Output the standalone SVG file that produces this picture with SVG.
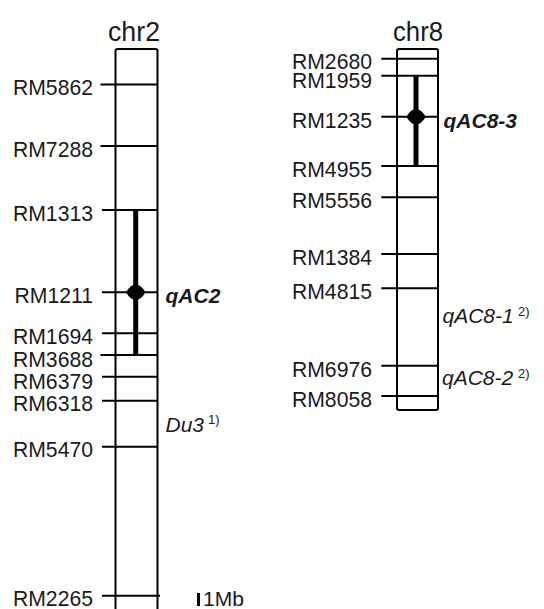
<svg xmlns="http://www.w3.org/2000/svg" width="544" height="609" viewBox="0 0 544 609">
<style>
text{font-family:"Liberation Sans",Arial,sans-serif;fill:#1a1a1a}
.t{font-size:27px;text-anchor:middle}
.m{font-size:21.2px;text-anchor:end}
.q{font-size:21px;font-style:italic}
.qb{font-size:21px;font-style:italic;font-weight:bold}
.s{font-size:13px}
.chr{fill:none;stroke:#000;stroke-width:2}
.tk{stroke:#000;stroke-width:2}
.bar{stroke:#000;stroke-width:5}
</style>
<rect width="544" height="609" fill="#fff"/>
<g id="chr2">
<text class="t" x="134" y="41" textLength="52" lengthAdjust="spacingAndGlyphs">chr2</text>
<rect class="chr" x="115.5" y="49" width="42" height="580" rx="2"/>
</g>
<g id="chr8">
<text class="t" x="418" y="41" textLength="50" lengthAdjust="spacingAndGlyphs">chr8</text>
<rect class="chr" x="397" y="49" width="41" height="361" rx="2"/>
</g>
<g id="markers2">
<line class="tk" x1="100.5" y1="84.5" x2="157.5" y2="84.5"/><text class="m" x="93" y="95.3">RM5862</text>
<line class="tk" x1="100.5" y1="146" x2="157.5" y2="146"/><text class="m" x="93" y="156.8">RM7288</text>
<line class="tk" x1="102" y1="210" x2="157.5" y2="210"/><text class="m" x="93" y="220.8">RM1313</text>
<line class="tk" x1="102" y1="292.3" x2="157.5" y2="292.3"/><text class="m" x="93" y="303">RM1211</text>
<line class="tk" x1="102" y1="333.3" x2="157.5" y2="333.3"/><text class="m" x="93" y="344">RM1694</text>
<line class="tk" x1="100.5" y1="355" x2="157.5" y2="355"/><text class="m" x="93" y="366.5">RM3688</text>
<line class="tk" x1="102" y1="376.7" x2="157.5" y2="376.7"/><text class="m" x="93" y="388.5">RM6379</text>
<line class="tk" x1="102" y1="400.7" x2="157.5" y2="400.7"/><text class="m" x="93" y="411">RM6318</text>
<line class="tk" x1="102" y1="446.7" x2="157.5" y2="446.7"/><text class="m" x="93" y="457.3">RM5470</text>
<line class="tk" x1="102" y1="595.7" x2="160" y2="595.7"/><text class="m" x="93" y="606.3">RM2265</text>
</g>
<g id="markers8">
<line class="tk" x1="381.3" y1="58.8" x2="438" y2="58.8"/><text class="m" x="372" y="69">RM2680</text>
<line class="tk" x1="381.3" y1="75.7" x2="438" y2="75.7"/><text class="m" x="372" y="88">RM1959</text>
<line class="tk" x1="381.3" y1="116.7" x2="438" y2="116.7"/><text class="m" x="372" y="127.5">RM1235</text>
<line class="tk" x1="381.3" y1="166" x2="438" y2="166"/><text class="m" x="372" y="176.5">RM4955</text>
<line class="tk" x1="381.3" y1="197.3" x2="438" y2="197.3"/><text class="m" x="372" y="208">RM5556</text>
<line class="tk" x1="381.3" y1="254" x2="438" y2="254"/><text class="m" x="372" y="264.7">RM1384</text>
<line class="tk" x1="381.3" y1="288.3" x2="438" y2="288.3"/><text class="m" x="372" y="299">RM4815</text>
<line class="tk" x1="381.3" y1="365.7" x2="438" y2="365.7"/><text class="m" x="372" y="376.5">RM6976</text>
<line class="tk" x1="381.3" y1="396" x2="438" y2="396"/><text class="m" x="372" y="406.7">RM8058</text>
</g>
<g id="qAC2">
<line class="bar" x1="135.7" y1="210.5" x2="135.7" y2="354.5"/>
<path d="M126 292.3 Q130.5 284.5 135.7 284.5 Q141 284.5 145.5 292.3 Q141 300 135.7 300 Q130.5 300 126 292.3Z" fill="#000"/>
<text class="qb" x="165.5" y="303">qAC2</text>
</g>
<g id="qAC8-3">
<line class="bar" x1="416" y1="76.5" x2="416" y2="166"/>
<path d="M406.3 116.7 Q410.8 108.9 416 108.9 Q421.3 108.9 425.8 116.7 Q421.3 124.4 416 124.4 Q410.8 124.4 406.3 116.7Z" fill="#000"/>
<text class="qb" x="443.5" y="128">qAC8-3</text>
</g>
<g id="Du3">
<text class="q" x="165.5" y="431.5">Du3</text><text class="s" x="208" y="424">1)</text>
</g>
<g id="qAC8-1">
<text class="q" x="442.5" y="323.3">qAC8-1</text><text class="s" x="518" y="316">2)</text>
</g>
<g id="qAC8-2">
<text class="q" x="442" y="385">qAC8-2</text><text class="s" x="518" y="378">2)</text>
</g>
<g id="scale">
<line x1="198.5" y1="593" x2="198.5" y2="606" stroke="#000" stroke-width="3"/>
<text x="203" y="606" style="font-size:21px">1Mb</text>
</g>
</svg>
